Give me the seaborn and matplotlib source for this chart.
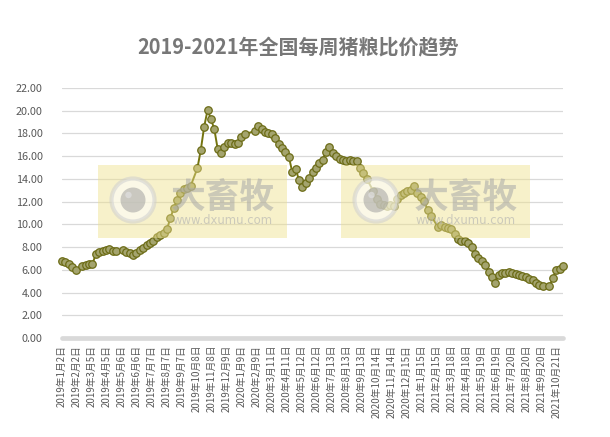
import numpy as np
import pandas as pd
import matplotlib
matplotlib.use("Agg")
import matplotlib.pyplot as plt
import seaborn as sns
from matplotlib.patches import Rectangle, Circle

# ---------------- data ----------------
start_date = "2019-01-02"          # first weekly observation
end_date = "2021-11-03"            # last weekly observation
tick_step_days = 31                # axis major unit (days)
tick_count = 34

# weekly pig/grain price ratio (None = week not published)
prices = [
    6.80, 6.67, 6.50, 6.25, 5.97, None, 6.34, 6.46, 6.50, 6.51,
    7.40, 7.60, 7.69, 7.75, 7.80, 7.69, 7.63, None, 7.72, 7.61,
    7.45, 7.31, 7.52, 7.73, 7.92, 8.22, 8.32, 8.52, 8.92, 9.07,
    9.22, 9.57, 10.54, 11.42, 12.15, 12.72, 13.09, 13.22, 13.38, None,
    14.94, 16.55, 18.60, 20.05, 19.27, 18.37, 16.62, 16.26, 16.77, 17.14,
    17.19, 17.08, 17.14, 17.72, 17.93, None, None, 18.22, 18.63, 18.37,
    18.16, 18.07, 17.93, 17.58, 17.11, 16.70, 16.33, 15.96, 14.64, 14.90,
    13.91, 13.26, 13.67, 14.08, 14.58, 14.95, 15.38, 15.68, 16.40, 16.77,
    16.31, 15.99, 15.75, 15.64, 15.55, 15.67, 15.61, 15.55, 15.00, 14.52,
    14.02, None, 12.91, 12.27, 11.75, 11.69, 11.64, 11.66, 11.63, 12.20,
    12.55, 12.78, 12.95, 13.05, 13.40, 12.80, 12.44, 12.04, 11.27, 10.75,
    None, 9.80, 9.95, 9.80, 9.66, 9.55, 9.15, 8.71, 8.54, 8.50,
    8.39, 8.00, 7.39, 7.00, 6.79, 6.43, 5.84, 5.37, 4.85, 5.58,
    5.70, 5.75, 5.80, 5.70, 5.63, 5.55, 5.46, 5.34, 5.22, 5.08,
    4.85, 4.65, 4.58, None, 4.58, 5.26, 5.99, 6.06, 6.34,
]
y_ticks = [0, 2, 4, 6, 8, 10, 12, 14, 16, 18, 20, 22]
title = "2019-2021年全国每周猪粮比价趋势"
wm_main = "大畜牧"
wm_url = "www.dxumu.com"

# ---------------- build table ----------------
dates = pd.date_range(start_date, periods=len(prices), freq="7D")
df = pd.DataFrame({"date": dates, "ratio": pd.array(prices, dtype="Float64")}).dropna()
df["ratio"] = df["ratio"].astype(float)
tick_dates = [pd.Timestamp(start_date) + pd.Timedelta(days=tick_step_days * k) for k in range(tick_count)]
tick_labels = [f"{d.year}年{d.month}月{d.day}日" for d in tick_dates]

# ---------------- style ----------------
sns.set_style("white")
plt.rcParams["font.family"] = ["Noto Sans CJK SC", "DejaVu Sans"]

W, H = 610, 437
fig = plt.figure(figsize=(W / 100, H / 100), dpi=100)
ax = fig.add_axes([62 / W, 1 - 338 / H, (563 - 62) / W, (338 - 88) / H])

grey_txt = "#595959"
grid_c = "#d9d9d9"

sns.lineplot(data=df, x="date", y="ratio", ax=ax, color="#74740f", linewidth=1.4,
             marker="o", markersize=5.4, markerfacecolor="#a4a46e",
             markeredgecolor="#6c6c16", markeredgewidth=0.9, zorder=3)
for ln in ax.lines:
    ln.set_clip_on(False)

ax.set_xlim(pd.Timestamp(start_date), pd.Timestamp(end_date))
ax.set_ylim(0, 22)
ax.set_yticks(y_ticks)
ax.set_yticklabels([f"{v:.2f}" for v in y_ticks])
ax.set_xticks(tick_dates)
ax.set_xticklabels(tick_labels, rotation=90)
ax.tick_params(axis="y", length=0, pad=14, labelsize=7.8, labelcolor=grey_txt)
ax.tick_params(axis="x", length=0, pad=5, labelsize=7.0, labelcolor=grey_txt)
ax.set_xlabel("")
ax.set_ylabel("")
for s in ax.spines.values():
    s.set_visible(False)
ax.grid(axis="y", color=grid_c, linewidth=0.9, zorder=0)
ax.grid(axis="x", visible=False)
ax.axhline(0, color="#d9d9d9", linewidth=3.4, zorder=1, clip_on=False)

fig.text(298 / W, 1 - 48 / H, title, ha="center", va="center", fontsize=14.4,
         fontweight="bold", color="#777777")

# ---------------- watermark overlay ----------------
ov = fig.add_axes([0, 0, 1, 1], zorder=5)
ov.set_xlim(0, W)
ov.set_ylim(H, 0)
ov.axis("off")
ov.patch.set_alpha(0)
for dx in (0, 243):
    ov.add_patch(Rectangle((98 + dx, 165), 189, 73, facecolor="#eee08a", alpha=0.45,
                           edgecolor="none"))
    cx, cy = 133 + dx, 200
    ov.add_patch(Circle((cx, cy), 21.5, facecolor="white", edgecolor="#cfcfcf",
                        linewidth=3, alpha=0.55))
    ov.add_patch(Circle((cx, cy), 12.5, facecolor="#9a9a9a", edgecolor="none", alpha=0.5))
    ov.add_patch(Circle((cx - 4.5, cy - 5), 3.2, facecolor="#e0e0e0", edgecolor="none", alpha=0.7))
    ov.text(223 + dx, 197, wm_main, ha="center", va="center", fontsize=25,
            fontweight="bold", color="#a8a8a8", alpha=0.55)
    ov.text(223 + dx, 220, wm_url, ha="center", va="center", fontsize=8.4,
            color="#b0b0b0", alpha=0.6, family="DejaVu Sans")

fig.savefig("out.png", dpi=100, facecolor="white")
